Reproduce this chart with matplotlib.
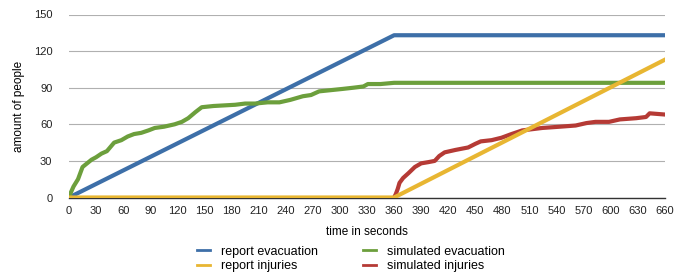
import numpy as np
import matplotlib.pyplot as plt

plt.rcParams['font.family'] = ['Liberation Sans', 'DejaVu Sans']

# data
rep_evac_t = [0, 360, 660]
rep_evac_v = [0, 133, 133]

rep_inj_t = [0, 360, 660]
rep_inj_v = [0, 0, 113]

sim_evac_t = [0, 2, 5, 10, 15, 20, 25, 30, 36, 42, 50, 58, 65, 72, 80, 88, 95, 105, 117, 125, 132, 140, 147,
              160, 184, 195, 206, 220, 233, 245, 259, 268, 277, 290, 303, 315, 326, 331, 345, 360, 660]
sim_evac_v = [0, 4, 9, 15, 25, 28, 31, 33, 36, 38, 45, 47, 50, 52, 53, 55, 57, 58, 60, 62, 65, 70, 74,
              75, 76, 77, 77, 78, 78, 80, 83, 84, 87, 88, 89, 90, 91, 93, 93, 94, 94]

sim_inj_t = [360, 362, 364, 366, 370, 376, 383, 390, 398, 405, 410, 416, 428, 442, 450, 456, 468, 479, 490, 502,
             513, 524, 543, 561, 573, 583, 598, 610, 628, 639, 643, 660]
sim_inj_v = [0, 3, 7, 12, 16, 20, 25, 28, 29, 30, 34, 37, 39, 41, 44, 46, 47, 49, 52, 55,
             56, 57, 58, 59, 61, 62, 62, 64, 65, 66, 69, 68]

c_blue = '#3d6fa8'
c_yellow = '#e8b632'
c_green = '#6c9f3c'
c_red = '#b53a35'

fig = plt.figure(figsize=(6.91, 2.76), dpi=100)
ax = fig.add_axes([69/691, 78.5/276, 596/691, 183/276])

ax.plot(rep_evac_t, rep_evac_v, color=c_blue, lw=3, label='report evacuation', zorder=3)
ax.plot(rep_inj_t, rep_inj_v, color=c_yellow, lw=3, label='report injuries', zorder=4)
ax.plot(sim_evac_t, sim_evac_v, color=c_green, lw=3, label='simulated evacuation', zorder=3)
ax.plot(sim_inj_t, sim_inj_v, color=c_red, lw=3, label='simulated injuries', zorder=3)

ax.set_xlim(0, 660)
ax.set_ylim(0, 150)
ax.set_xticks(np.arange(0, 661, 30))
ax.set_yticks(np.arange(0, 151, 30))
ax.tick_params(labelsize=8, length=0, colors='#222222')
ax.tick_params(axis='x', pad=6)
ax.tick_params(axis='y', pad=12)
ax.grid(axis='y', color='#b0b0b0', lw=0.8)
ax.set_axisbelow(True)
for s in ['top', 'right', 'left']:
    ax.spines[s].set_visible(False)
ax.spines['bottom'].set_color('#333333')
ax.spines['bottom'].set_linewidth(1.0)
ax.spines['bottom'].set_zorder(2)

ax.set_xlabel('time in seconds', fontsize=8.5, labelpad=7)
ax.set_ylabel('amount of people', fontsize=8.5, labelpad=6)

leg = ax.legend(loc='center', bbox_to_anchor=(351/691, 1-259/276), bbox_transform=fig.transFigure,
                ncol=2, frameon=False, fontsize=9, handlelength=1.05, columnspacing=3.6,
                labelspacing=0.2, handletextpad=0.9, borderpad=0)
for h in leg.get_lines():
    h.set_linewidth(2)

fig.savefig('out.png', dpi=100)
